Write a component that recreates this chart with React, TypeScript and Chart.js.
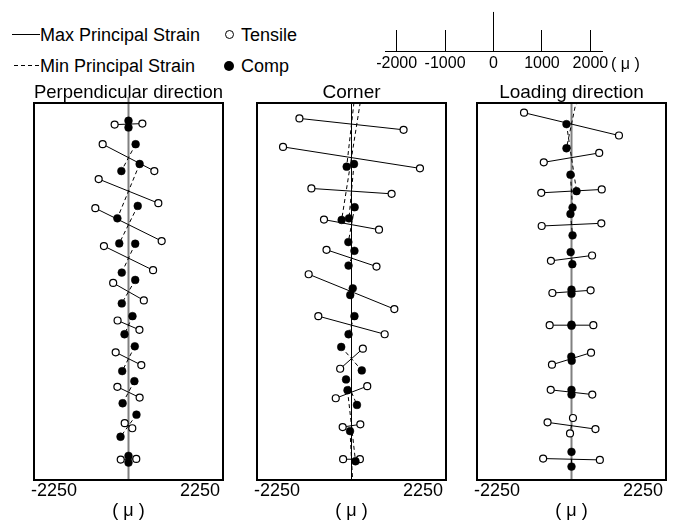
import React, { useEffect, useRef } from 'react';
import { Chart, registerables } from 'chart.js';

Chart.register(...registerables);

const FONT = "'Liberation Sans', Arial, sans-serif";

// Gauge rows (top to bottom) shared by the three panels
const gaugeRows = [1, 2, 3, 4, 5, 6, 7, 8, 9, 10, 11];

// Panel x range (µ)
const STRAIN_MIN = -2250;
const STRAIN_MAX = 2250;
const ROW_MIN = 0.37;
const ROW_MAX = 11.62;

// Perpendicular direction: principal strain glyph half-extents
// max: x half-extent in µ, y half-extent in row units (right end); min: upper end offsets
const perpMaxDx = [330, 615, 710, 790, 585, 365, 260, 305, 265, 90, 185];
const perpMaxDy = [-0.015, 0.4, 0.36, 0.49, 0.36, 0.26, 0.14, 0.19, 0.16, 0.075, -0.01];
const perpMinDx = [0, 170, 265, 220, 160, 160, 95, 150, 140, 190, 0];
const perpMinDy = [-0.1, -0.4, -0.81, -0.56, -0.43, -0.35, -0.27, -0.37, -0.33, -0.33, -0.1];
const perpMinTensile = [false, false, false, false, false, false, false, false, false, false, false];

// Corner
const cornerMaxDx = [1240, 1630, 955, 655, 595, 1020, 790, 270, 375, 210, 200];
const cornerMaxDy = [0.17, 0.32, 0.08, 0.15, 0.25, 0.52, 0.27, -0.3, -0.18, -0.04, 0];
const cornerMinDx = [115, 235, 60, 75, 70, 30, 70, -245, -130, -95, -35];
const cornerMinDy = [-1.27, -1.86, -0.81, -0.52, -0.22, -0.1, -0.27, -0.35, -0.38, -1.06, -0.84];
const cornerMinTensile = [false, false, false, false, false, false, false, false, false, false, false];

// Loading direction
const loadMaxDx = [1130, 660, 720, 710, 490, 455, 520, 465, 495, 570, 675];
const loadMaxDy = [0.34, -0.14, -0.05, -0.04, -0.08, -0.04, 0, -0.18, 0.07, 0.1, 0.02];
const loadMinDx = [120, -120, -25, -25, -20, 0, 0, -5, 0, 35, 0];
const loadMinDy = [-0.72, -1.0, -0.49, -0.32, -0.18, -0.06, -0.015, -0.06, -0.07, -0.23, -0.22];
const loadMinTensile = [false, false, false, false, false, false, false, false, false, true, false];

// Reference scale (top)
const scaleTicks = [-2000, -1000, 0, 1000, 2000];
const SCALE_MIN = -2240;
const SCALE_MAX = 2240;

const framePlugin = {
  id: 'frame',
  afterDraw(chart: any) {
    const { ctx, chartArea: a } = chart;
    ctx.save();
    ctx.strokeStyle = '#000';
    ctx.lineWidth = 2;
    ctx.strokeRect(a.left, a.top, a.right - a.left, a.bottom - a.top);
    ctx.restore();
  },
};

type PanelProps = {
  title: string;
  boxLeft: number;
  maxDx: number[];
  maxDy: number[];
  minDx: number[];
  minDy: number[];
  minTensile: boolean[];
  centerColor: string;
  centerWidth: number;
  centerOverflowTop: number;
};

const BOX_W = 189;
const PAD = 20;

function Panel(p: PanelProps) {
  const ref = useRef<HTMLCanvasElement>(null);
  useEffect(() => {
    if (!ref.current) return;
    const datasets: any[] = [];
    datasets.push({
      data: [
        { x: 0, y: ROW_MIN - 1 },
        { x: 0, y: ROW_MAX },
      ],
      showLine: true,
      borderColor: p.centerColor,
      borderWidth: p.centerWidth,
      pointRadius: 0,
      order: 5,
      clip: { left: 0, right: 0, top: p.centerOverflowTop, bottom: 0 },
    });
    const open: any[] = [];
    const filled: any[] = [];
    gaugeRows.forEach((r, i) => {
      const m1 = { x: -p.maxDx[i], y: r - p.maxDy[i] };
      const m2 = { x: p.maxDx[i], y: r + p.maxDy[i] };
      const n1 = { x: p.minDx[i], y: r + p.minDy[i] };
      const n2 = { x: -p.minDx[i], y: r - p.minDy[i] };
      datasets.push({
        data: [m1, m2],
        showLine: true,
        borderColor: '#000',
        borderWidth: 1,
        pointRadius: 0,
        order: 3,
      });
      datasets.push({
        data: [n1, n2],
        showLine: true,
        borderColor: '#000',
        borderWidth: 1,
        borderDash: [4, 3],
        pointRadius: 0,
        order: 3,
      });
      open.push(m1, m2);
      (p.minTensile[i] ? open : filled).push(n1, n2);
    });
    datasets.push({
      data: open,
      showLine: false,
      pointStyle: 'circle',
      pointRadius: 3.5,
      pointBackgroundColor: '#fff',
      pointBorderColor: '#000',
      pointBorderWidth: 1.2,
      order: 1,
    });
    datasets.push({
      data: filled,
      showLine: false,
      pointStyle: 'circle',
      pointRadius: 3.9,
      pointBackgroundColor: '#000',
      pointBorderColor: '#000',
      pointBorderWidth: 0.5,
      order: 0,
    });

    const chart = new Chart(ref.current, {
      type: 'scatter',
      data: { datasets },
      options: {
        animation: false,
        responsive: false,
        events: [],
        layout: { padding: { left: PAD, right: PAD, top: 0, bottom: 0 }, autoPadding: false },
        plugins: {
          legend: { display: false },
          tooltip: { enabled: false },
          title: {
            display: true,
            text: p.title,
            color: '#000',
            font: { family: FONT, size: 19, weight: 'normal', lineHeight: 1 },
            padding: { top: 3.5, bottom: 0.5 },
          },
        },
        scales: {
          x: {
            type: 'linear',
            min: STRAIN_MIN,
            max: STRAIN_MAX,
            grid: { display: false, drawTicks: false },
            border: { display: false },
            afterBuildTicks: (scale: any) => {
              scale.ticks = [{ value: STRAIN_MIN }, { value: STRAIN_MAX }];
            },
            afterFit: (scale: any) => {
              scale.height = 40;
            },
            ticks: {
              align: 'inner',
              labelOffset: -3,
              padding: 0,
              color: '#000',
              font: { family: FONT, size: 18 },
              callback: (v: any) => String(v),
            },
            title: {
              display: true,
              text: '( μ )',
              color: '#000',
              font: { family: FONT, size: 18, lineHeight: 1 },
              padding: { top: 0, bottom: 0 },
            },
          },
          y: {
            type: 'linear',
            min: ROW_MIN,
            max: ROW_MAX,
            reverse: true,
            display: false,
          },
        },
      } as any,
      plugins: [framePlugin],
    });
    return () => chart.destroy();
  }, []);
  return (
    <canvas
      ref={ref}
      width={BOX_W + 2 * PAD}
      height={440}
      style={{ position: 'absolute', left: p.boxLeft - PAD, top: 80, width: BOX_W + 2 * PAD, height: 440 }}
    />
  );
}

function TopScale() {
  const ref = useRef<HTMLCanvasElement>(null);
  useEffect(() => {
    if (!ref.current) return;
    const chart = new Chart(ref.current, {
      type: 'scatter',
      data: {
        datasets: [
          {
            data: [
              { x: 0, y: 0 },
              { x: 0, y: 1.86 },
            ],
            showLine: true,
            borderColor: '#000',
            borderWidth: 1,
            pointRadius: 0,
            clip: false,
          },
        ],
      },
      options: {
        animation: false,
        responsive: false,
        events: [],
        layout: { padding: { left: 25, right: 38, top: 30, bottom: 0 }, autoPadding: false },
        plugins: { legend: { display: false }, tooltip: { enabled: false } },
        scales: {
          x: {
            type: 'linear',
            min: SCALE_MIN,
            max: SCALE_MAX,
            grid: { display: true, color: '#000', lineWidth: 1, drawTicks: false },
            border: { display: true, color: '#000', width: 1 },
            afterBuildTicks: (scale: any) => {
              scale.ticks = scaleTicks.map((v) => ({ value: v }));
            },
            afterFit: (scale: any) => {
              scale.height = 29;
            },
            ticks: {
              padding: 3,
              color: '#000',
              font: { family: FONT, size: 16 },
              callback: (v: any) => String(v),
            },
          },
          y: { type: 'linear', min: 0, max: 1, display: false },
        },
      } as any,
    });
    return () => chart.destroy();
  }, []);
  return (
    <canvas
      ref={ref}
      width={280}
      height={80}
      style={{ position: 'absolute', left: 360, top: 0, width: 280, height: 80 }}
    />
  );
}

const textStyle = (left: number, cy: number, size: number): React.CSSProperties => ({
  position: 'absolute',
  left,
  top: cy,
  transform: 'translateY(-50%)',
  fontFamily: FONT,
  fontSize: size,
  lineHeight: 1,
  whiteSpace: 'nowrap',
  color: '#000',
});

export default function App() {
  return (
    <div
      style={{
        position: 'absolute',
        left: 0,
        top: 0,
        width: 681,
        height: 520,
        background: '#fff',
        overflow: 'hidden',
      }}
    >
      {/* Legend */}
      <div style={{ position: 'absolute', left: 12, top: 34, width: 28, height: 1, background: '#000' }} />
      <span style={textStyle(40, 34.5, 18)}>Max Principal Strain</span>
      <div
        style={{
          position: 'absolute',
          left: 225,
          top: 30,
          width: 9,
          height: 9,
          borderRadius: '50%',
          border: '1.2px solid #000',
          boxSizing: 'border-box',
          background: '#fff',
        }}
      />
      <span style={textStyle(241, 34.5, 18)}>Tensile</span>

      <div
        style={{
          position: 'absolute',
          left: 14,
          top: 65,
          width: 26,
          height: 1,
          background: 'repeating-linear-gradient(to right, #000 0 4px, transparent 4px 7px)',
        }}
      />
      <span style={textStyle(40, 65.5, 18)}>Min Principal Strain</span>
      <div
        style={{
          position: 'absolute',
          left: 224,
          top: 60.5,
          width: 10,
          height: 10,
          borderRadius: '50%',
          background: '#000',
        }}
      />
      <span style={textStyle(241, 65.5, 18)}>Comp</span>

      <TopScale />
      <span style={textStyle(611, 64, 16)}>( μ )</span>

      <Panel
        title="Perpendicular direction"
        boxLeft={34}
        maxDx={perpMaxDx}
        maxDy={perpMaxDy}
        minDx={perpMinDx}
        minDy={perpMinDy}
        minTensile={perpMinTensile}
        centerColor="#808080"
        centerWidth={2}
        centerOverflowTop={6}
      />
      <Panel
        title="Corner"
        boxLeft={257}
        maxDx={cornerMaxDx}
        maxDy={cornerMaxDy}
        minDx={cornerMinDx}
        minDy={cornerMinDy}
        minTensile={cornerMinTensile}
        centerColor="#000"
        centerWidth={1}
        centerOverflowTop={0}
      />
      <Panel
        title="Loading direction"
        boxLeft={477}
        maxDx={loadMaxDx}
        maxDy={loadMaxDy}
        minDx={loadMinDx}
        minDy={loadMinDy}
        minTensile={loadMinTensile}
        centerColor="#808080"
        centerWidth={2}
        centerOverflowTop={0}
      />
    </div>
  );
}
